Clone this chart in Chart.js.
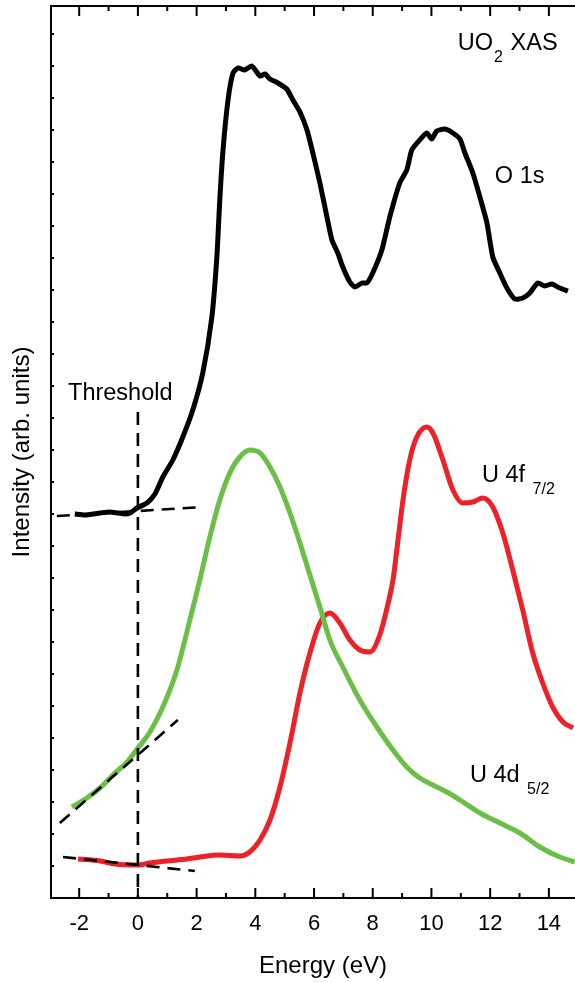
<!DOCTYPE html>
<html>
<head>
<meta charset="utf-8">
<script src="https://cdn.jsdelivr.net/npm/chart.js@4.4.1/dist/chart.umd.min.js"></script>
<style>
  body { margin: 0; background: #fff; }
  #wrap { width: 575px; height: 982px; }
</style>
</head>
<body>
<div id="wrap"><canvas id="xas" width="575" height="982"></canvas></div>
<script>
// UO2 XAS, energy relative to threshold (eV), intensity in arb. units

const xTicks = [-2, 0, 2, 4, 6, 8, 10, 12, 14];

// O 1s
const o1sE = [-2.15, -1.81, -1.29, -0.95, -0.68, -0.44, -0.27, -0.03, 0.31, 0.58, 0.85, 1.19, 1.53, 1.87, 2.21, 2.52, 2.69, 2.79, 2.90, 3.07,
  3.24, 3.41, 3.64, 3.88, 4.16, 4.33, 4.50, 4.77, 5.07, 5.28, 5.52, 5.76, 5.96, 6.20, 6.44, 6.61, 6.81, 6.98, 7.22, 7.39,
  7.63, 7.80, 8.00, 8.31, 8.58, 8.92, 9.16, 9.33, 9.60, 9.84, 10.01, 10.18, 10.46, 10.73, 10.97, 11.14, 11.41, 11.65, 11.89, 12.09,
  12.33, 12.57, 12.84, 13.11, 13.35, 13.62, 13.86, 14.10, 14.37, 14.65];
const o1sI = [384, 383, 385, 386, 385, 384, 385, 390, 395, 404, 421, 438, 461, 488, 525, 581, 641, 698, 748, 798,
  825, 830, 828, 832, 822, 824, 819, 815, 809, 798, 786, 768, 745, 715, 681, 658, 645, 631, 616, 611,
  615, 615, 625, 648, 681, 715, 728, 748, 758, 765, 759, 767, 769, 765, 759, 745, 725, 701, 675, 641,
  625, 610, 599, 600, 605, 615, 612, 614, 610, 607];

// U 4d5/2
const u4dE = [-2.25, -1.74, -1.29, -0.85, -0.37, 0, 0.41, 0.85, 1.33, 1.77, 2.11, 2.45, 2.79, 3.13, 3.47, 3.81, 4.16, 4.50, 4.84, 5.18,
  5.52, 5.86, 6.20, 6.54, 6.98, 7.56, 8.14, 8.69, 9.16, 9.60, 10.05, 10.52, 10.97, 11.65, 12.33, 13.01, 13.69, 14.37, 14.88];
const u4dI = [91, 100, 110, 123, 136, 150, 166, 191, 228, 278, 318, 361, 398, 425, 441, 448, 445, 431, 411, 385,
  355, 323, 291, 258, 231, 198, 171, 148, 131, 120, 113, 106, 98, 85, 75, 65, 51, 41, 36];

// U 4f7/2
const u4fE = [-2.04, -1.29, -0.78, -0.27, 0, 0.41, 0.99, 1.67, 2.11, 2.79, 3.47, 3.81, 4.16, 4.50, 4.84, 5.18, 5.52, 5.86, 6.20, 6.54,
  6.88, 7.22, 7.56, 7.90, 8.24, 8.51, 8.69, 8.82, 9.03, 9.26, 9.50, 9.84, 10.05, 10.39, 10.73, 11.07, 11.41, 11.75, 12.09, 12.43,
  12.77, 13.11, 13.45, 13.79, 14.13, 14.48, 14.82];
const u4fI = [39, 37, 34, 33, 33, 35, 37, 39, 41, 43, 42, 46, 58, 78, 111, 155, 205, 245, 275, 285,
  275, 258, 248, 246, 263, 293, 318, 348, 398, 438, 461, 471, 465, 438, 408, 395, 396, 400, 391, 365,
  328, 288, 245, 215, 191, 176, 170];

// dashed guide lines (threshold + extrapolated baselines / edge tangent)
const thrE = [0, 0];          const thrI = [486, 0];
const o1sBaseE = [-2.76, 2.21]; const o1sBaseI = [382, 391];
const u4dTanE = [-2.66, 1.36];  const u4dTanI = [75, 178];
const u4fBaseE = [-2.55, 1.94]; const u4fBaseI = [41, 27];

const FONT = '"Liberation Sans", Arial, Helvetica, sans-serif';
Chart.defaults.font.family = FONT;
Chart.defaults.color = '#000';

const pts = (xs, ys) => xs.map((v, k) => ({ x: v, y: ys[k] }));

function dashed(xs, ys) {
  return { data: pts(xs, ys), borderColor: '#000', borderWidth: 2.6, borderDash: [13, 8], tension: 0, order: 0 };
}

// text annotations, anchored in data coords
const notes = [
  { e: -2.38, i: 498, text: 'Threshold' },
  { e: 10.9, i: 848, text: 'UO', sub: '2', after: ' XAS' },
  { e: 12.16, i: 715, text: 'O 1s' },
  { e: 11.72, i: 416, text: 'U 4f ', sub: '7/2' },
  { e: 11.31, i: 116, text: 'U 4d ', sub: '5/2' }
];

const framePlugin = {
  id: 'frame',
  afterDraw(chart) {
    const { ctx, chartArea: a, scales: { x, y } } = chart;
    ctx.save();
    ctx.strokeStyle = '#000';
    ctx.lineWidth = 2;
    ctx.beginPath();
    ctx.moveTo(a.right, a.top);
    ctx.lineTo(a.left, a.top);
    ctx.lineTo(a.left, a.bottom);
    ctx.lineTo(a.right, a.bottom);
    ctx.stroke();

    // inward ticks: major on even eV, minor on odd
    ctx.beginPath();
    for (let e = -2; e <= 14; e++) {
      const px = x.getPixelForValue(e);
      const len = e % 2 === 0 ? 10 : 5;
      ctx.moveTo(px, a.bottom); ctx.lineTo(px, a.bottom - len);
      ctx.moveTo(px, a.top); ctx.lineTo(px, a.top + len);
    }
    y.ticks.forEach(t => {
      const py = y.getPixelForValue(t.value);
      ctx.moveTo(a.left, py); ctx.lineTo(a.left + 3, py);
    });
    ctx.stroke();

    ctx.fillStyle = '#000';
    ctx.textBaseline = 'alphabetic';
    ctx.textAlign = 'left';
    notes.forEach(n => {
      let px = x.getPixelForValue(n.e);
      const py = y.getPixelForValue(n.i);
      ctx.font = '23.5px ' + FONT;
      ctx.fillText(n.text, px, py);
      px += ctx.measureText(n.text).width;
      if (n.sub) {
        ctx.font = '16px ' + FONT;
        ctx.fillText(n.sub, px + 1, py + 12);
        px += ctx.measureText(n.sub).width + 1;
      }
      if (n.after) {
        ctx.font = '23.5px ' + FONT;
        ctx.fillText(n.after, px + 1, py);
      }
    });

    // axis titles
    ctx.font = '24px ' + FONT;
    ctx.textAlign = 'center';
    ctx.textBaseline = 'middle';
    ctx.fillText('Energy (eV)', 323, 966);
    ctx.translate(22, (a.top + a.bottom) / 2);
    ctx.rotate(-Math.PI / 2);
    ctx.fillText('Intensity (arb. units)', 0, 0);
    ctx.restore();
  }
};

new Chart(document.getElementById('xas'), {
  type: 'line',
  data: {
    datasets: [
      dashed(thrE, thrI),
      dashed(o1sBaseE, o1sBaseI),
      dashed(u4dTanE, u4dTanI),
      dashed(u4fBaseE, u4fBaseI),
      { label: 'U 4d5/2', data: pts(u4dE, u4dI), borderColor: '#6BBF47', borderWidth: 5, cubicInterpolationMode: 'monotone', order: 1 },
      { label: 'O 1s', data: pts(o1sE, o1sI), borderColor: '#000', borderWidth: 5, tension: 0.2, order: 2 },
      { label: 'U 4f7/2', data: pts(u4fE, u4fI), borderColor: '#EE2028', borderWidth: 5, cubicInterpolationMode: 'monotone', order: 3 }
    ]
  },
  options: {
    responsive: false,
    animation: false,
    layout: { padding: { top: 6, right: 0, bottom: 0, left: 0 } },
    elements: { point: { radius: 0 }, line: { capStyle: 'round', joinStyle: 'round' } },
    plugins: { legend: { display: false }, tooltip: { enabled: false } },
    scales: {
      x: {
        type: 'linear',
        min: -2.96,
        max: 14.89,
        grid: { display: false, drawTicks: false },
        border: { display: false },
        afterBuildTicks: s => { s.ticks = xTicks.map(v => ({ value: v })); },
        afterFit: s => { s.height = 84; },
        ticks: { font: { size: 22 }, padding: 13, maxRotation: 0, autoSkip: false }
      },
      y: {
        min: 0,
        max: 892,
        grid: { display: false, drawTicks: false },
        border: { display: false },
        ticks: { display: false, stepSize: 32 },
        afterFit: s => { s.width = 51; }
      }
    }
  },
  plugins: [framePlugin]
});
</script>
</body>
</html>
